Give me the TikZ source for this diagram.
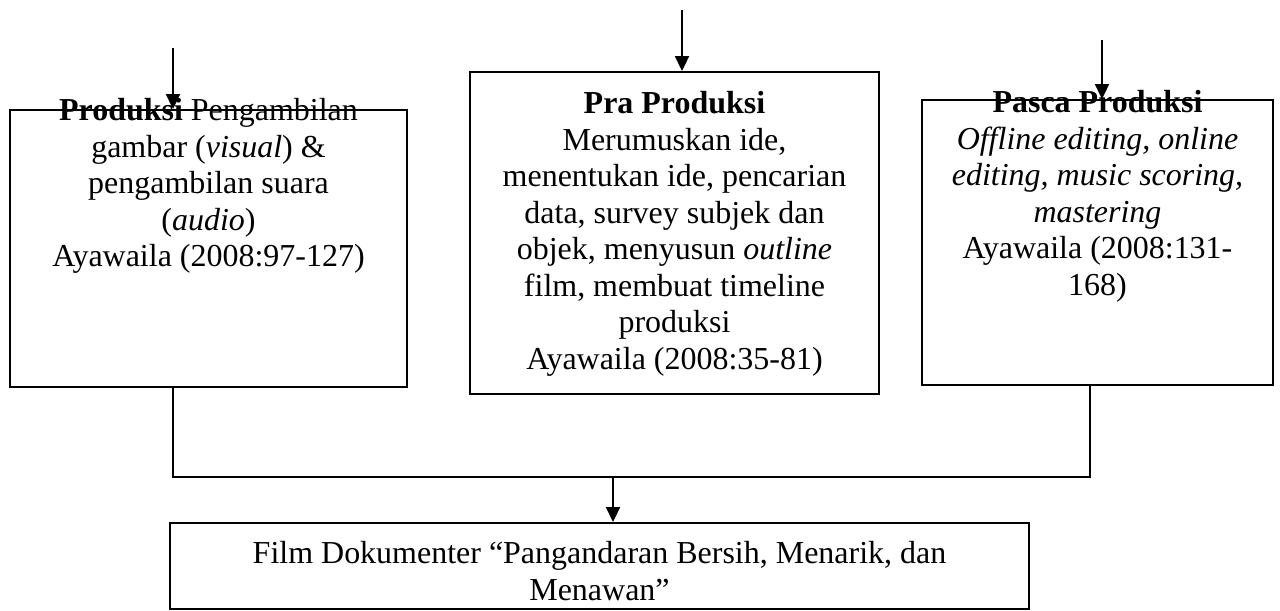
\documentclass[tikz,border=0pt]{standalone}
\usepackage{fontspec}
\setmainfont{Liberation Serif}
\usetikzlibrary{arrows.meta}
\tikzstyle{kotak}=[rectangle, draw, line width=1.1pt, inner sep=0pt]
\tikzstyle{isi}=[align=center, inner sep=0pt, anchor=north, font=\fontsize{18.2pt}{20.8pt}\selectfont]
\tikzstyle{garis}=[line width=1.1pt]
\tikzstyle{panah}=[line width=1.1pt, -{Triangle[length=0.3cm, width=0.28cm]}]

\begin{document}
\begin{tikzpicture}[x=0.02cm, y=-0.02cm]
\useasboundingbox (0,0) rectangle (1280,611);

\node[isi] (tprod) at (208.5,98) {\textbf{Produksi} Pengambilan\\ gambar (\textit{visual}) \&\\ pengambilan suara\\ (\textit{audio})\\ Ayawaila (2008:97-127)};
\node[isi] (tpra) at (674.5,91) {\textbf{Pra Produksi}\\ Merumuskan ide,\\ menentukan ide, pencarian\\ data, survey subjek dan\\ objek, menyusun \textit{outline}\\ film, membuat timeline\\ produksi\\ Ayawaila (2008:35-81)};
\node[isi] (tpasca) at (1097.5,90) {\textbf{Pasca Produksi}\\ \textit{Offline editing, online}\\ \textit{editing, music scoring,}\\ \textit{mastering}\\ Ayawaila (2008:131-\\ 168)};
\node[isi] (tfilm) at (599.5,541) {Film Dokumenter “Pangandaran Bersih, Menarik, dan\\ Menawan”};

\node[kotak, minimum width=7.94cm, minimum height=5.54cm] (prod) at (208.5,248.5) {};
\node[kotak, minimum width=8.18cm, minimum height=6.44cm] (pra) at (674.5,233) {};
\node[kotak, minimum width=7.02cm, minimum height=5.7cm] (pasca) at (1097.5,242.5) {};
\node[kotak, minimum width=17.18cm, minimum height=1.72cm] (film) at (599.5,566) {};

\coordinate (a1) at (173,48);
\coordinate (a2) at (682,10);
\coordinate (a3) at (1102,40);
\coordinate (jl) at (173,477);
\coordinate (jm) at (613,477);
\coordinate (jr) at (1090,477);

\draw[panah] (a1) -- (a1 |- prod.north);
\draw[panah] (a2) -- (a2 |- pra.north);
\draw[panah] (a3) -- (a3 |- pasca.north);

\draw[garis] (jl |- prod.south) -- (jl) -- (jr) -- (jr |- pasca.south);
\draw[panah] (jm) -- (jm |- film.north);

\end{tikzpicture}
\end{document}
